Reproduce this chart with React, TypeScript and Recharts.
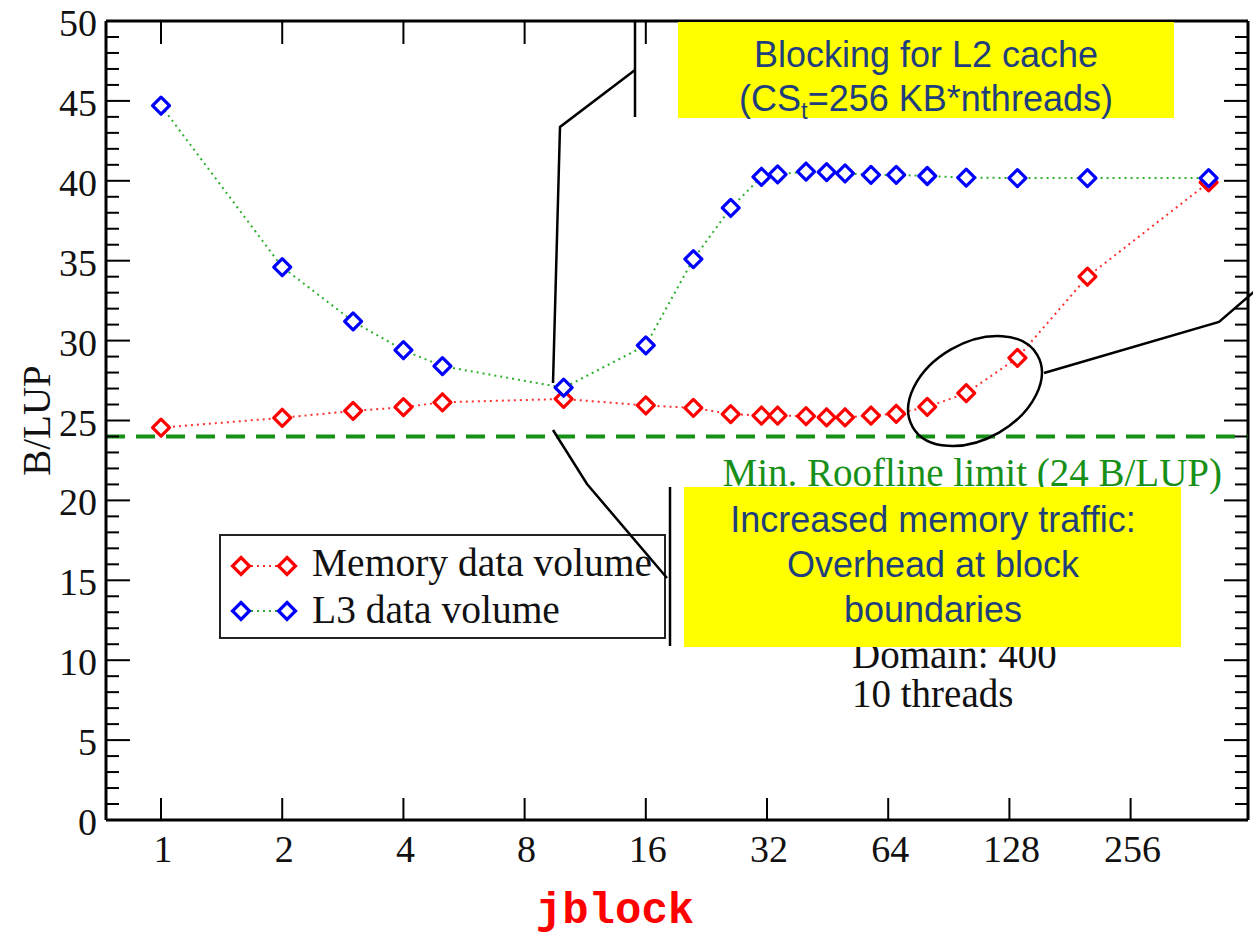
import React from "react";
import { LineChart, Line, XAxis, YAxis, ReferenceLine } from "recharts";

// jblock sweep, domain 400, 10 threads
const jblock = [1, 2, 3, 4, 5, 10, 16, 21, 26, 31, 34, 40, 45, 50, 58, 67, 80, 100, 134, 200, 400];
const memoryVolume = [24.55, 25.17, 25.6, 25.83, 26.14, 26.35, 25.94, 25.79, 25.4, 25.31, 25.31, 25.27, 25.2, 25.2, 25.31, 25.42, 25.85, 26.71, 28.92, 34.0, 39.9];
const l3Volume = [44.7, 34.6, 31.2, 29.4, 28.4, 27.05, 29.7, 35.1, 38.3, 40.25, 40.4, 40.58, 40.54, 40.46, 40.37, 40.37, 40.3, 40.2, 40.17, 40.17, 40.17];

const xTicks = [1, 2, 4, 8, 16, 32, 64, 128, 256];
const yTicks = Array.from({ length: 51 }, (_, i) => i);
const xDomain: [number, number] = [0.73, 501];
const yDomain: [number, number] = [0, 50];
const rooflineLimit = 24;

const seriesNames = ["Memory data volume", "L3 data volume"];
const rooflineText = "Min. Roofline limit (24 B/LUP)";
const runInfo = ["Domain: 400", "10 threads"];
const l2Note = ["Blocking for L2 cache", "(CS", "t", "=256 KB*nthreads)"];
const overheadNote = ["Increased memory traffic:", "Overhead at block", "boundaries"];

const rows = jblock.map((j, i) => ({ jblock: j, memory: memoryVolume[i], l3: l3Volume[i] }));

const W = 1253;
const H = 937;
const MARGIN = { top: 21, right: 5, bottom: 67, left: 10 };
const PLOT_TOP = MARGIN.top;
const PLOT_RIGHT = W - MARGIN.right;

const SERIF = '"Liberation Serif", "Times New Roman", serif';
const SANS = '"Liberation Sans", Arial, sans-serif';
const MONO = '"Liberation Mono", "Courier New", monospace';

const RED = "#ff0000";
const BLUE = "#0000ff";
const RED_DOTS = "#ff3030";
const GREEN_DOTS = "#2cb02c";
const ROOF_GREEN = "#179017";
const NOTE_BLUE = "#1f3f7c";
const NOTE_YELLOW = "#ffff00";

const diamond = (cx: number, cy: number, r: number) =>
  `M${cx},${cy - r}L${cx + r},${cy}L${cx},${cy + r}L${cx - r},${cy}Z`;

const makeDot = (color: string) => (props: any) => (
  <path
    key={`${color}-${props.index}`}
    d={diamond(props.cx, props.cy, 8.5)}
    fill="#fff"
    stroke={color}
    strokeWidth={3.2}
    strokeLinejoin="round"
  />
);

// y ticks point inward on both frame sides; labels only on the left
function LeftTick({ x, y, payload }: any) {
  const v = payload.value;
  const major = v % 5 === 0;
  const len = major ? 24 : 13;
  return (
    <g>
      <line x1={x} x2={x + len} y1={y} y2={y} stroke="#000" strokeWidth={2} />
      <line x1={PLOT_RIGHT} x2={PLOT_RIGHT - len} y1={y} y2={y} stroke="#000" strokeWidth={2} />
      {major && (
        <text x={x - 9} y={y + 15} textAnchor="end" fontFamily={SERIF} fontSize={38} fill="#111">
          {v}
        </text>
      )}
    </g>
  );
}

function BottomTick({ x, y, payload }: any) {
  return (
    <g>
      <line x1={x} x2={x} y1={y} y2={y - 22} stroke="#000" strokeWidth={2} />
      <line x1={x} x2={x} y1={PLOT_TOP} y2={PLOT_TOP + 23} stroke="#000" strokeWidth={2} />
      <text x={x + 2} y={y + 42} textAnchor="middle" fontFamily={SERIF} fontSize={38} fill="#111">
        {payload.value}
      </text>
    </g>
  );
}

function Notes() {
  return (
    <svg
      width={W}
      height={H}
      style={{ position: "absolute", left: 0, top: 0, pointerEvents: "none" }}
    >
      {/* run info, partly hidden by the yellow note */}
      <text fontFamily={SERIF} fontSize={39} fill="#111">
        <tspan x={852} y={668}>{runInfo[0]}</tspan>
        <tspan x={852} y={707}>{runInfo[1]}</tspan>
      </text>

      {/* legend */}
      <rect x={220} y={535} width={445} height={103} fill="#fff" stroke="#222" strokeWidth={2} />
      <line x1={251} x2={278} y1={566} y2={566} stroke={RED_DOTS} strokeWidth={2} strokeDasharray="2 4" />
      <path d={diamond(241, 566, 8.5)} fill="#fff" stroke={RED} strokeWidth={3.2} />
      <path d={diamond(287, 566, 8.5)} fill="#fff" stroke={RED} strokeWidth={3.2} />
      <text x={312} y={576} fontFamily={SERIF} fontSize={39.5} fill="#111">{seriesNames[0]}</text>
      <line x1={251} x2={278} y1={611} y2={611} stroke={GREEN_DOTS} strokeWidth={2} strokeDasharray="2 4" />
      <path d={diamond(241, 611, 8.5)} fill="#fff" stroke={BLUE} strokeWidth={3.2} />
      <path d={diamond(287, 611, 8.5)} fill="#fff" stroke={BLUE} strokeWidth={3.2} />
      <text x={312} y={623} fontFamily={SERIF} fontSize={39.5} fill="#111">{seriesNames[1]}</text>

      {/* L2 blocking note */}
      <rect x={678} y={22} width={496} height={96} fill={NOTE_YELLOW} />
      <text x={926} y={67} textAnchor="middle" fontFamily={SANS} fontSize={36} fill={NOTE_BLUE}>
        {l2Note[0]}
      </text>
      <text x={926} y={111} textAnchor="middle" fontFamily={SANS} fontSize={36} fill={NOTE_BLUE}>
        {l2Note[1]}
        <tspan fontSize={24} dy={8}>{l2Note[2]}</tspan>
        <tspan dy={-8}>{l2Note[3]}</tspan>
      </text>

      {/* overhead note */}
      <rect x={684} y={487} width={497} height={160} fill={NOTE_YELLOW} />
      <text textAnchor="middle" fontFamily={SANS} fontSize={36} fill={NOTE_BLUE}>
        <tspan x={933} y={532}>{overheadNote[0]}</tspan>
        <tspan x={933} y={577}>{overheadNote[1]}</tspan>
        <tspan x={933} y={622}>{overheadNote[2]}</tspan>
      </text>

      {/* callout lines */}
      <g fill="none" stroke="#000" strokeWidth={2.5}>
        <line x1={635} x2={635} y1={22} y2={117} />
        <polyline points="635,70 560,127 553,383" />
        <line x1={670} x2={670} y1={487} y2={646} />
        <polyline points="553,430 587,484 667,578" />
        <ellipse cx={975} cy={391} rx={72} ry={48} transform="rotate(-30 975 391)" />
        <polyline points="1044,373 1219,322 1256,290" />
      </g>
    </svg>
  );
}

export default function App() {
  return (
    <div
      style={{
        position: "absolute",
        left: 0,
        top: 0,
        width: W,
        height: H,
        background: "#fff",
        overflow: "hidden",
      }}
    >
      <LineChart width={W} height={H} data={rows} margin={MARGIN}>
        <XAxis
          dataKey="jblock"
          type="number"
          scale="log"
          domain={xDomain}
          allowDataOverflow
          ticks={xTicks}
          interval={0}
          height={50}
          tickSize={0}
          tickMargin={0}
          axisLine={{ stroke: "#000", strokeWidth: 3 }}
          tick={<BottomTick />}
          label={{
            content: ({ viewBox }: any) => (
              <text
                x={viewBox.x + viewBox.width / 2 - 62}
                y={viewBox.y + 103}
                textAnchor="middle"
                fontFamily={MONO}
                fontWeight="bold"
                fontSize={44}
                fill={RED}
              >
                jblock
              </text>
            ),
          }}
        />
        <YAxis
          type="number"
          domain={yDomain}
          ticks={yTicks}
          interval={0}
          width={96}
          tickSize={0}
          tickMargin={0}
          axisLine={{ stroke: "#000", strokeWidth: 3 }}
          tick={<LeftTick />}
          label={{
            content: ({ viewBox }: any) => {
              const lx = viewBox.x + 40;
              const ly = viewBox.y + viewBox.height / 2;
              return (
                <text
                  x={lx}
                  y={ly}
                  transform={`rotate(-90 ${lx} ${ly})`}
                  textAnchor="middle"
                  fontFamily={SERIF}
                  fontSize={39}
                  fill="#111"
                >
                  B/LUP
                </text>
              );
            },
          }}
        />
        {/* top and right edges of the frame */}
        <ReferenceLine y={yDomain[1]} stroke="#000" strokeWidth={3} />
        <ReferenceLine x={xDomain[1]} stroke="#000" strokeWidth={3} />
        <ReferenceLine
          y={rooflineLimit}
          stroke={ROOF_GREEN}
          strokeWidth={4}
          strokeDasharray="19 11"
          label={{
            content: ({ viewBox }: any) => (
              <text
                x={viewBox.x + viewBox.width - 26}
                y={viewBox.y + 50}
                textAnchor="end"
                fontFamily={SERIF}
                fontSize={39}
                fill={ROOF_GREEN}
              >
                {rooflineText}
              </text>
            ),
          }}
        />
        <Line
          dataKey="memory"
          name={seriesNames[0]}
          type="linear"
          stroke={RED_DOTS}
          strokeWidth={2}
          strokeDasharray="2 4"
          dot={makeDot(RED)}
          activeDot={false}
          isAnimationActive={false}
        />
        <Line
          dataKey="l3"
          name={seriesNames[1]}
          type="linear"
          stroke={GREEN_DOTS}
          strokeWidth={2}
          strokeDasharray="2 4"
          dot={makeDot(BLUE)}
          activeDot={false}
          isAnimationActive={false}
        />
      </LineChart>
      <Notes />
    </div>
  );
}
